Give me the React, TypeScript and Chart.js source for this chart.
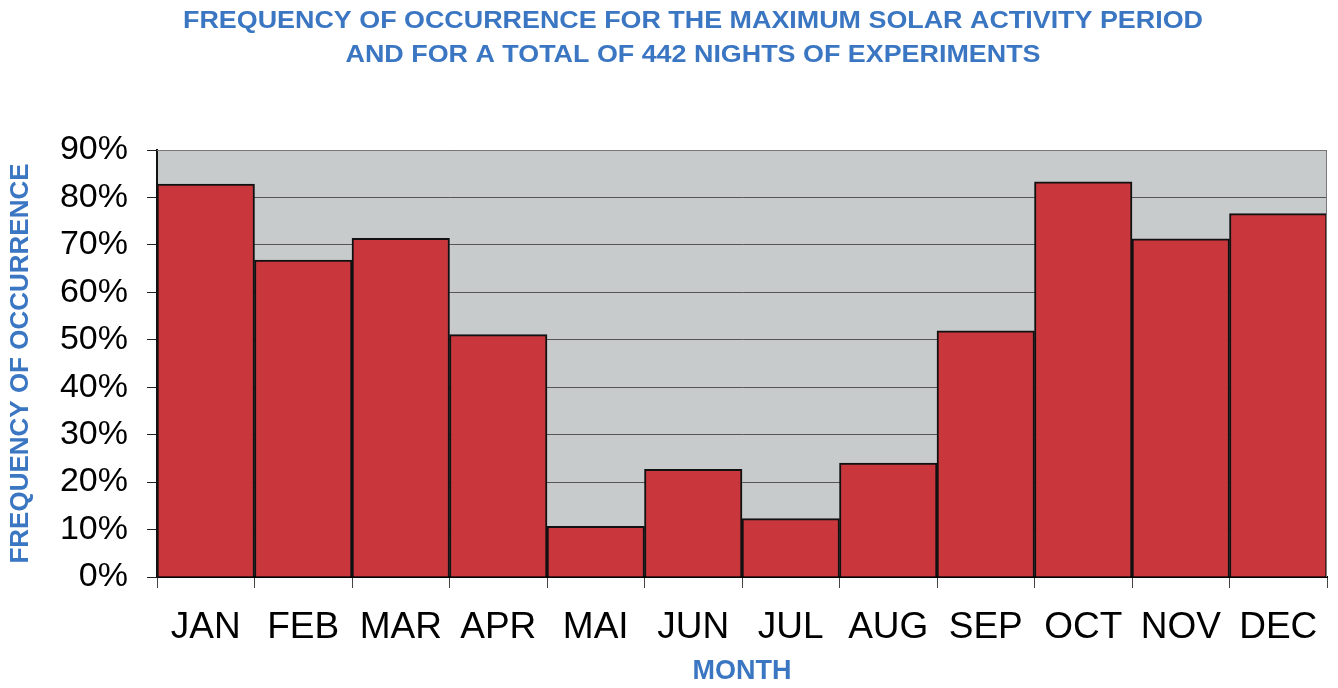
import React, { useEffect, useRef } from "react";
import { Chart, registerables } from "chart.js";

Chart.register(...registerables);

const months = ["JAN", "FEB", "MAR", "APR", "MAI", "JUN", "JUL", "AUG", "SEP", "OCT", "NOV", "DEC"];
const frequency = [82.8, 66.8, 71.4, 51.1, 10.7, 22.7, 12.3, 24.0, 51.9, 83.3, 71.3, 76.6];
const yTickLabels = ["0%", "10%", "20%", "30%", "40%", "50%", "60%", "70%", "80%", "90%"];
const titleLines = [
  "FREQUENCY OF OCCURRENCE FOR THE MAXIMUM SOLAR ACTIVITY PERIOD",
  "AND FOR A TOTAL OF 442 NIGHTS OF EXPERIMENTS",
];
const yTitle = "FREQUENCY OF OCCURRENCE";
const xTitle = "MONTH";

const BLUE = "#3a76c2";
const FONT = "'Liberation Sans', Arial, sans-serif";

const plotBgPlugin = {
  id: "plotBg",
  beforeDraw(chart: any) {
    const { ctx, chartArea } = chart;
    if (!chartArea) return;
    ctx.save();
    ctx.fillStyle = "#c8cbcc";
    ctx.fillRect(chartArea.left, chartArea.top, chartArea.right - chartArea.left, chartArea.bottom - chartArea.top);
    ctx.restore();
  },
  afterDraw(chart: any) {
    const { ctx, chartArea } = chart;
    ctx.save();
    ctx.strokeStyle = "#777";
    ctx.lineWidth = 1;
    ctx.beginPath();
    ctx.moveTo(chartArea.left, chartArea.top + 0.5);
    ctx.lineTo(chartArea.right - 0.5, chartArea.top + 0.5);
    ctx.lineTo(chartArea.right - 0.5, chartArea.bottom);
    ctx.stroke();
    ctx.restore();
    // title (slightly stretched horizontally, as in the reference)
    ctx.save();
    ctx.fillStyle = BLUE;
    ctx.font = `bold 24px ${FONT}`;
    ctx.textAlign = "center";
    ctx.textBaseline = "middle";
    ctx.translate(693, 0);
    ctx.scale(1.12, 1);
    titleLines.forEach((line, i) => {
      ctx.fillText(line, 0, 21 + i * 34);
    });
    ctx.restore();
  },
};

export default function App() {
  const canvasRef = useRef<HTMLCanvasElement | null>(null);

  useEffect(() => {
    if (!canvasRef.current) return;
    const chart = new Chart(canvasRef.current, {
      type: "bar",
      data: {
        labels: months,
        datasets: [
          {
            data: frequency,
            backgroundColor: "#c9373d",
            borderColor: "#111",
            borderWidth: 2,
            barPercentage: 1,
            categoryPercentage: 1,
          },
        ],
      },
      options: {
        animation: false,
        responsive: true,
        maintainAspectRatio: false,
        layout: { padding: { top: 150, right: 11, bottom: 0, left: 0 } },
        plugins: {
          legend: { display: false },
          title: { display: false },
          tooltip: { enabled: false },
        },
        scales: {
          x: {
            grid: {
              display: true,
              drawOnChartArea: false,
              drawTicks: true,
              offset: true,
              tickLength: 11,
              tickColor: "#444",
            },
            border: { color: "#000", width: 2 },
            ticks: {
              color: "#000",
              font: { family: FONT, size: 37 },
              padding: 18,
              maxRotation: 0,
              autoSkip: false,
            },
            title: {
              display: true,
              text: xTitle,
              color: BLUE,
              font: { family: FONT, size: 27, weight: "bold" },
              padding: { top: 0, bottom: 0 },
            },
            afterFit(scale: any) {
              scale.height = 111;
            },
          },
          y: {
            min: 0,
            max: 90,
            grid: {
              color: "#555",
              lineWidth: 1,
              drawTicks: true,
              tickLength: 10,
              tickColor: "#222",
            },
            border: { color: "#111", width: 2 },
            ticks: {
              stepSize: 10,
              color: "#000",
              font: { family: FONT, size: 34 },
              padding: 19,
              callback: (_v: any, i: number) => yTickLabels[i],
            },
            title: {
              display: true,
              text: yTitle,
              color: BLUE,
              font: { family: FONT, size: 26, weight: "bold" },
              padding: { top: 5, bottom: 0 },
            },
            afterFit(scale: any) {
              scale.width = 157;
            },
          },
        },
      },
      plugins: [plotBgPlugin],
    });
    return () => chart.destroy();
  }, []);

  return (
    <div style={{ position: "absolute", left: 0, top: 0, width: 1338, height: 688, background: "#fff" }}>
      <canvas ref={canvasRef} />
    </div>
  );
}
